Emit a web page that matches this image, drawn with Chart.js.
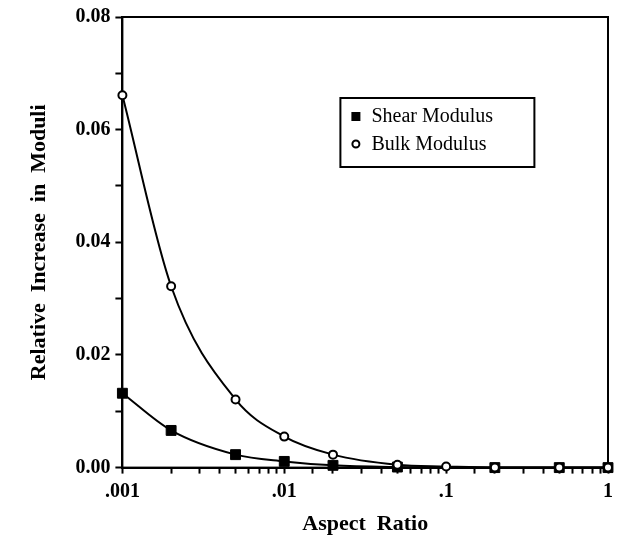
<!DOCTYPE html>
<html>
<head>
<meta charset="utf-8">
<script src="https://cdn.jsdelivr.net/npm/chart.js@4"></script>
<style>
  html, body { margin: 0; padding: 0; background: #fff; }
  #wrap { width: 619px; height: 546px; }
</style>
</head>
<body>
<div id="wrap"><canvas id="modChart"></canvas></div>
<script>
const aspectRatios = [0.001, 0.002, 0.005, 0.01, 0.02, 0.05, 0.1, 0.2, 0.5, 1];
const shearModulus = [0.0132, 0.0066, 0.0023, 0.0011, 0.0004, 0.0001, null, 0.0, 0.0, 0.0];
const bulkModulus = [0.0661, 0.0322, 0.0121, 0.0055, 0.0023, 0.0005, 0.0002, 0.0, 0.0, 0.0];
const xMajorLabels = { 0.001: '.001', 0.01: '.01', 0.1: '.1', 1: '1' };

const serif = '"Liberation Serif", "Times New Roman", serif';

function toPoints(ys) {
    return aspectRatios.map((x, i) => ({ x: x, y: ys[i] }));
}

// frame around the plot + legend box inside it
const frameAndLegend = {
    id: 'frameAndLegend',
    beforeDatasetsDraw(chart) {
        const { ctx, chartArea } = chart;
        ctx.save();
        ctx.strokeStyle = '#000';
        ctx.lineWidth = 2;
        ctx.strokeRect(chartArea.left, chartArea.top,
            chartArea.right - chartArea.left, chartArea.bottom - chartArea.top);
        ctx.restore();
    },
    afterDraw(chart) {
        const { ctx, chartArea } = chart;
        ctx.save();
        const bx = chartArea.left + 218, by = chartArea.top + 81;
        const bw = 194, bh = 69;
        ctx.fillStyle = '#fff';
        ctx.fillRect(bx, by, bw, bh);
        ctx.strokeStyle = '#000';
        ctx.lineWidth = 2;
        ctx.strokeRect(bx, by, bw, bh);

        ctx.fillStyle = '#000';
        ctx.fillRect(bx + 11, by + 14, 9, 9);
        ctx.beginPath();
        ctx.arc(bx + 15.5, by + 46, 3.5, 0, Math.PI * 2);
        ctx.lineWidth = 2;
        ctx.stroke();

        ctx.font = '20px ' + serif;
        ctx.textBaseline = 'middle';
        ctx.fillText('Shear Modulus', bx + 31, by + 19);
        ctx.fillText('Bulk Modulus', bx + 31, by + 47);
        ctx.restore();
    }
};

new Chart(document.querySelector('#modChart'), {
    type: 'line',
    data: {
        datasets: [
            {
                label: 'Shear Modulus',
                data: toPoints(shearModulus),
                borderColor: '#000',
                borderWidth: 2,
                pointStyle: 'rect',
                pointRadius: 7,
                pointBackgroundColor: '#000',
                pointBorderColor: '#000',
                pointBorderWidth: 1,
                cubicInterpolationMode: 'monotone',
                spanGaps: true,
                clip: false,
                order: 1,
            },
            {
                label: 'Bulk Modulus',
                data: toPoints(bulkModulus),
                borderColor: '#000',
                borderWidth: 2,
                pointStyle: 'circle',
                pointRadius: 4,
                pointBackgroundColor: '#fff',
                pointBorderColor: '#000',
                pointBorderWidth: 2,
                cubicInterpolationMode: 'monotone',
                clip: false,
                order: 0,
            },
        ],
    },
    options: {
        responsive: true,
        maintainAspectRatio: false,
        animation: false,
        layout: { padding: { top: 10, right: 10, bottom: 8, left: 26 } },
        plugins: {
            legend: { display: false },
            tooltip: { enabled: false },
        },
        scales: {
            x: {
                type: 'logarithmic',
                min: 0.001,
                max: 1,
                border: { color: '#000', width: 2 },
                grid: {
                    drawOnChartArea: false,
                    drawTicks: true,
                    tickLength: 6,
                    tickColor: '#000',
                    tickWidth: 2,
                },
                ticks: {
                    autoSkip: false,
                    maxRotation: 0,
                    color: '#000',
                    padding: 6,
                    font: { family: serif, size: 20, weight: 'bold' },
                    callback: (v) => xMajorLabels[v] || '',
                },
                title: {
                    display: true,
                    text: 'Aspect  Ratio',
                    color: '#000',
                    font: { family: serif, size: 22, weight: 'bold' },
                    padding: { top: 2, bottom: 0 },
                },
            },
            y: {
                min: 0,
                max: 0.08,
                border: { color: '#000', width: 2 },
                grid: {
                    drawOnChartArea: false,
                    drawTicks: true,
                    tickLength: 7,
                    tickColor: '#000',
                    tickWidth: 2,
                },
                ticks: {
                    stepSize: 0.01,
                    color: '#000',
                    padding: 5,
                    font: { family: serif, size: 20, weight: 'bold' },
                    callback: (v) => (Math.round(v * 100) % 2 === 0 ? v.toFixed(2) : ''),
                },
                title: {
                    display: true,
                    text: 'Relative  Increase  in  Moduli',
                    color: '#000',
                    font: { family: serif, size: 22, weight: 'bold' },
                    padding: { top: 0, bottom: 18 },
                },
            },
        },
    },
    plugins: [frameAndLegend],
});
</script>
</body>
</html>
